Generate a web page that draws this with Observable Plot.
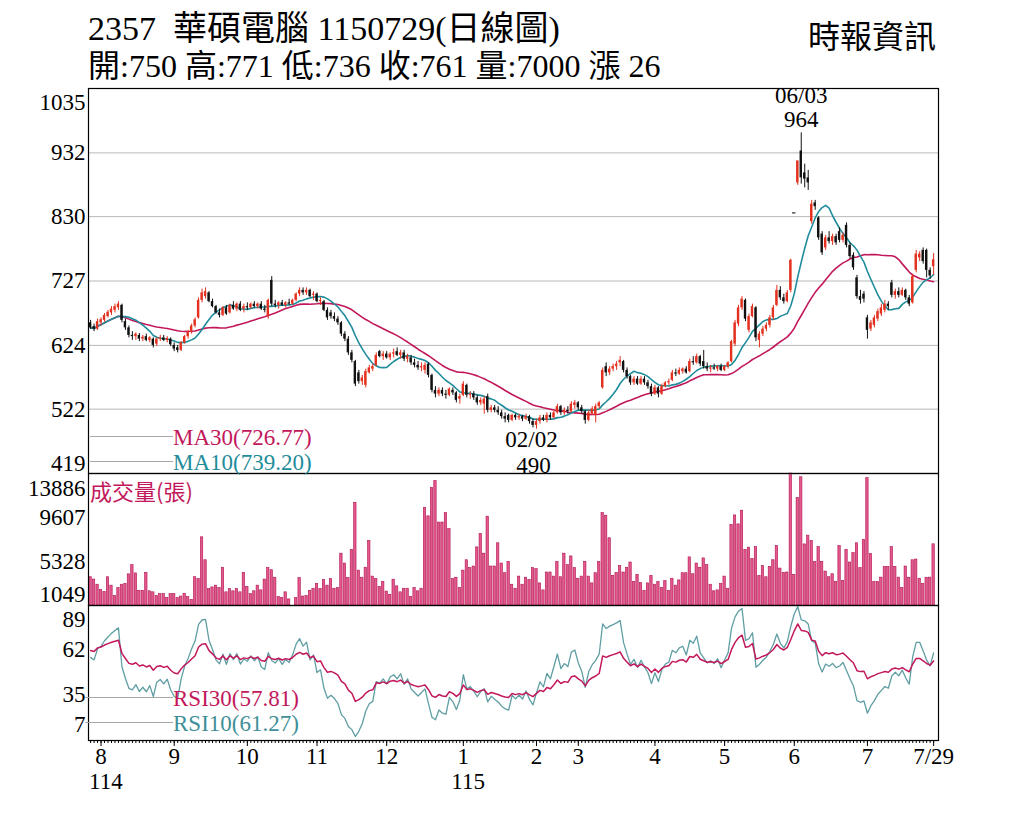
<!DOCTYPE html>
<html><head><meta charset="utf-8">
<script src="https://cdn.jsdelivr.net/npm/d3@7"></script>
<script src="https://cdn.jsdelivr.net/npm/@observablehq/plot@0.6"></script>
<style>
body{margin:0;background:#fff;}
#wrap{position:relative;width:1024px;height:819px;overflow:hidden;background:#fff;font-family:"Liberation Serif","Noto Sans CJK TC",serif;}
.abs{position:absolute;white-space:nowrap;line-height:1;}
.plot{position:absolute;left:0;}
.lg{position:absolute;height:0;border-top:1.5px solid #a8a8a8;}
</style></head><body><div id="wrap"></div>
<script>
// ---------- data ----------
const openP = [
660,654,650,660,664,670,676,680,684,688,
662,652,640,638,640,634,638,632,634,626,
634,636,632,634,624,620,616,628,638,645,
655,668,696,702,708,694,686,676,672,684,
676,688,682,690,682,686,684,690,686,690,
682,670,728,690,688,692,688,692,690,696,
706,712,708,712,704,706,694,694,680,676,
670,666,660,642,634,612,598,580,566,560,
580,586,592,614,606,610,604,610,614,608,
612,602,604,596,592,588,584,594,576,552,
546,552,546,544,552,548,538,544,560,544,
546,540,532,530,542,520,524,520,516,510,
512,504,512,508,510,506,510,502,496,502,
508,504,512,508,516,526,516,520,518,528,
532,524,518,504,514,512,526,556,590,580,
586,590,596,598,584,574,564,570,562,570,
564,558,546,556,546,558,564,568,580,578,
582,586,582,598,596,606,598,590,586,588,
586,590,584,590,598,626,658,684,696,648,
670,684,632,642,650,656,668,688,712,700,
694,712,836,884,935,900,892,822,852,828,
802,780,796,790,798,806,792,816,784,768,
732,702,706,668,650,656,666,674,680,690,
724,704,710,704,712,700,692,744,764,776,
776,744,750];
const highP = [
664,658,666,668,675,680,686,690,694,690,
666,655,646,644,643,640,642,638,636,636,
640,640,638,636,628,624,630,640,648,658,
668,700,714,716,710,698,688,682,686,688,
690,694,692,694,690,692,692,694,692,694,
688,698,734,696,694,696,694,698,698,708,
716,716,716,714,710,708,700,696,684,680,
676,670,662,646,638,616,600,584,576,586,
592,594,612,616,614,614,612,618,620,616,
616,610,608,602,598,596,596,596,578,558,
556,556,552,556,556,550,546,566,562,550,
550,544,540,542,546,528,528,526,520,516,
514,514,514,514,512,514,512,506,506,512,
512,516,516,520,530,528,524,526,534,536,
534,528,520,520,526,530,534,588,596,590,
594,598,606,600,588,576,574,574,574,574,
568,562,560,558,562,566,570,584,586,588,
588,590,602,606,610,608,616,596,592,594,
592,594,592,598,632,664,688,702,698,674,
690,686,646,654,660,672,688,720,718,706,
712,762,836,919,964,914,904,856,856,830,
806,800,806,802,802,812,804,820,788,772,
736,712,710,672,664,672,682,690,696,694,
728,714,716,716,714,704,738,776,774,780,
778,748,771];
const lowP = [
650,646,648,655,661,668,672,676,680,660,
648,636,632,632,630,630,630,628,620,622,
630,630,628,622,614,612,614,626,634,642,
652,666,692,698,692,684,674,668,670,672,
674,680,678,678,676,680,682,684,682,680,
676,666,686,684,682,686,684,688,688,694,
702,704,704,700,696,692,688,678,664,666,
662,656,638,630,608,596,558,562,560,556,
578,582,590,604,600,602,600,604,606,602,
598,596,592,588,584,582,578,572,548,540,
542,542,538,542,544,532,530,542,540,538,
536,528,528,514,516,516,516,512,506,500,
500,502,504,504,502,504,498,492,490,498,
502,500,504,506,514,512,512,514,516,522,
520,514,498,502,512,500,522,554,574,576,
582,584,590,580,570,560,560,560,560,560,
554,542,544,540,544,556,560,566,574,576,
578,578,580,592,594,590,586,582,580,584,
582,582,582,586,596,622,654,680,662,644,
668,630,620,638,646,652,664,686,696,690,
692,708,836,880,882,876,872,818,840,792,
768,776,786,784,784,788,788,780,762,744,
698,690,692,634,646,652,662,670,676,680,
700,698,700,702,696,686,690,740,758,754,
732,730,736];
const closeP = [
652,650,662,665,672,677,682,686,690,664,
652,640,638,642,634,637,632,636,624,634,
636,632,635,625,618,616,628,638,645,655,
665,696,708,710,694,686,676,672,684,674,
688,682,690,680,686,684,690,686,690,682,
680,696,690,688,692,688,692,690,696,706,
712,708,712,702,706,694,696,680,668,670,
666,660,642,634,612,600,562,566,572,582,
588,590,608,606,610,604,610,612,608,612,
602,606,596,592,588,590,592,576,552,546,
552,546,544,554,548,536,542,562,544,546,
540,532,536,538,520,524,520,516,510,506,
504,512,508,510,506,510,502,496,502,508,
504,512,508,516,526,516,520,518,530,532,
524,518,504,516,522,526,532,584,580,586,
590,594,600,584,574,564,570,562,570,564,
558,546,556,546,558,564,566,580,578,584,
586,580,598,596,606,594,590,586,588,586,
590,584,590,596,630,660,684,698,666,670,
686,636,642,650,656,668,684,712,700,694,
708,760,836,919,892,890,884,850,846,796,
772,796,790,798,788,792,800,784,766,748,
702,696,698,648,660,668,678,684,690,686,
704,710,704,712,700,690,734,770,770,758,
744,735,761];
const volume = [
3800,3570,3070,2550,2370,3800,2980,1970,2750,3070,
3160,4080,4970,4170,2480,2480,4220,2430,2330,1970,
2150,2150,1760,2150,2150,1760,1920,2190,1860,1600,
3800,3620,7680,5450,2650,2810,2980,2750,4720,2330,
2650,2430,2650,2330,4220,2850,2150,2430,2980,2520,
3570,4680,4480,3750,1870,1780,2330,1640,1049,1760,
3710,1920,1970,2480,2680,3140,2650,3530,2980,3620,
2680,2750,6090,5130,3710,6460,11040,4440,3750,4720,
7330,3860,3620,2850,3340,2400,2090,3560,2910,2330,
2680,2680,1870,2750,2430,2680,10530,9720,12490,13150,
9120,9120,10040,8470,3620,3750,2750,4440,5450,4680,
4840,6700,8000,6090,9690,4840,4840,7100,5130,4190,
5300,3070,2680,3860,3070,3750,3530,4680,4580,3200,
2520,4260,4260,3860,5300,3800,6090,4970,5820,4680,
3650,3860,5300,3860,3200,4190,5270,10040,9780,7590,
3930,4220,4900,4260,4720,5230,3340,4030,3240,2480,
3200,3930,3070,3340,2750,3430,2480,3650,2980,3490,
4190,4190,5730,4090,5130,4720,5630,4970,3070,2430,
2520,3140,3860,2680,8890,9810,8940,10270,6460,6680,
5580,6720,3930,4900,3800,4810,5450,6830,4640,4220,
4260,13886,4030,11500,13520,6990,7840,7330,5270,6720,
5300,4350,3800,4090,3340,6830,3430,6460,5230,6150,
7100,4680,7430,13430,6050,3340,3340,3760,4810,4810,
6720,4810,3760,2750,4840,3750,5450,5520,3650,3140,
3750,3760,7000];
// RSI values at the left edge of the picture (history before the window is not shown)
const rsiStart = {10: 57.5, 30: 61.7};
const priceTicks = [419,522,624,727,830,932,1035];
const volTicks = [1049,5328,9607,13886];
const rsiTicks = [7,35,62,89];
const monthTickIndex = [3,24,45,65,85,107,128,140,162,182,202,223,242];
const monthTickLabel = ["8","9","10","11","12","1","2","3","4","5","6","7","7/29"];
const yearTickIndex = [3,107];
const yearTickLabel = ["114","115"];
const highNote = [{i:204, p:964, date:"06/03"}];
const lowNote = [{i:128, p:490, date:"02/02"}];

// ---------- derived ----------
const days = closeP.map((c,i)=>({i, o:openP[i], h:highP[i], l:lowP[i], c, v:volume[i]}));
// Wilder RSI, seeded with the value shown at the left edge
function rsi(cl, n){
  let sumAbs = 0;
  for(let i=1;i<=n;i++) sumAbs += Math.abs(cl[i]-cl[i-1]);
  const m = sumAbs/n;
  let ag = m*rsiStart[n]/100, al = m*(1-rsiStart[n]/100);
  const out = [{i:0, r:rsiStart[n]}];
  for(let i=1;i<cl.length;i++){
    const d = cl[i]-cl[i-1];
    ag += (Math.max(d,0)-ag)/n; al += (Math.max(-d,0)-al)/n;
    out.push({i, r: 100*ag/(ag+al)});
  }
  return out;
}
const rsi10 = rsi(closeP,10), rsi30 = rsi(closeP,30);

const UP="#e3301f", DOWN="#111111";
const MA30C="#c2185b", MA10C="#1f8c9b";
const FONT='"Liberation Serif","Noto Sans CJK TC",serif';
const X = {domain:[-0.6,243.4], axis:null};
const baseStyle = {fontFamily:FONT, fontSize:"23px", background:"transparent", overflow:"visible", color:"#000"};
const col = d => d.c>d.o ? UP : DOWN;
const fmt = d => String(d);

const wrap = document.getElementById("wrap");
function place(svg, top){ svg.classList.add("plot"); svg.style.top = top+"px"; wrap.appendChild(svg); }
const yAx = (ticks, dy) => Plot.axisY(ticks, {tickSize:0, tickPadding:3, fontSize:23, dy, tickFormat:fmt, label:null});

// price panel
const price = Plot.plot({
  width:1024, height:400, marginLeft:88, marginRight:86, marginTop:8, marginBottom:7,
  x:X, y:{domain:[priceTicks[0], priceTicks[priceTicks.length-1]], axis:null},
  color:{type:"identity"}, style:baseStyle,
  marks:[
    Plot.gridY(priceTicks.slice(1,-1), {stroke:"#b8b8b8", strokeOpacity:1}),
    yAx(priceTicks.slice(1,-1), 0),
    yAx(priceTicks.slice(-1), 14),
    yAx(priceTicks.slice(0,1), -10),
    Plot.lineY(days, Plot.windowY({k:30, anchor:"end", strict:false, reduce:"mean"}, {x:"i", y:"c", stroke:MA30C, strokeWidth:1.6})),
    Plot.lineY(days, Plot.windowY({k:10, anchor:"end", strict:false, reduce:"mean"}, {x:"i", y:"c", stroke:MA10C, strokeWidth:1.6})),
    Plot.ruleX(days, {x:"i", y1:"l", y2:"h", stroke:col, strokeWidth:1}),
    Plot.rect(days.filter(d=>d.o!==d.c), {x1:d=>d.i-0.34, x2:d=>d.i+0.34, y1:d=>Math.min(d.o,d.c), y2:d=>Math.max(d.o,d.c), fill:col}),
    Plot.ruleY(days.filter(d=>d.o===d.c), {y:"c", x1:d=>d.i-0.5, x2:d=>d.i+0.5, stroke:"#555", strokeWidth:1.5}),
    Plot.text(highNote, {x:"i", y:"p", text:"date", dy:-37, fontSize:23}),
    Plot.text(highNote, {x:"i", y:"p", text:d=>String(d.p), dy:-13, fontSize:23}),
    Plot.text(lowNote, {x:"i", y:"p", text:"date", dy:10, dx:-5, fontSize:23}),
    Plot.text(lowNote, {x:"i", y:"p", text:d=>String(d.p), dy:36, dx:-3, fontSize:23}),
    Plot.frame({stroke:"#000", strokeWidth:1.2})
  ]
});
place(price, 80);

// volume panel
const vol = Plot.plot({
  width:1024, height:132, marginLeft:88, marginRight:86, marginTop:0, marginBottom:0,
  x:X, y:{domain:[volTicks[0], volTicks[volTicks.length-1]], axis:null},
  style:baseStyle,
  marks:[
    Plot.rect(days, {x1:d=>d.i-0.34, x2:d=>d.i+0.34, y1:volTicks[0], y2:"v", fill:"#e4588e", stroke:"#b0124f", strokeWidth:0.6}),
    yAx(volTicks.slice(1,-1), 0),
    yAx(volTicks.slice(-1), 15),
    yAx(volTicks.slice(0,1), -11),
    Plot.frame({stroke:"#000", strokeWidth:1.2})
  ]
});
place(vol, 473);

// RSI panel
const rsiPlot = Plot.plot({
  width:1024, height:200, marginLeft:88, marginRight:86, marginTop:0, marginBottom:65,
  x:X, y:{domain:[rsiTicks[0], rsiTicks[rsiTicks.length-1]], axis:null},
  style:baseStyle,
  marks:[
    Plot.lineY(rsi10, {x:"i", y:"r", stroke:"#5f9ea3", strokeWidth:1.3, clip:true}),
    Plot.lineY(rsi30, {x:"i", y:"r", stroke:MA30C, strokeWidth:1.5, clip:true}),
    yAx(rsiTicks.slice(1,-1), 0),
    yAx(rsiTicks.slice(-1), 14),
    yAx(rsiTicks.slice(0,1), -16),
    Plot.axisX(days.map(d=>d.i), {tickSize:3, text:null, anchor:"bottom", label:null}),
    Plot.axisX(monthTickIndex, {anchor:"bottom", tickSize:6, tickPadding:1, fontSize:23, label:null, tickFormat:d=>monthTickLabel[monthTickIndex.indexOf(d)]}),
    Plot.axisX(yearTickIndex, {anchor:"bottom", tickSize:0, tickPadding:32, fontSize:23, label:null, textAnchor:"start", dx:-12, tickFormat:d=>yearTickLabel[yearTickIndex.indexOf(d)]}),
    Plot.frame({stroke:"#000", strokeWidth:1.2})
  ]
});
place(rsiPlot, 605);

// ---------- header & legends ----------
function txt(s, left, top, size, color, extra){
  const d = document.createElement("div");
  d.className="abs"; d.textContent=s;
  d.style.left=left+"px"; d.style.top=top+"px"; d.style.fontSize=size+"px"; d.style.color=color||"#000";
  if(extra) Object.assign(d.style, extra);
  wrap.appendChild(d); return d;
}
function line(left, top, w){ const d=document.createElement("div"); d.className="lg"; d.style.left=left+"px"; d.style.top=top+"px"; d.style.width=w+"px"; wrap.appendChild(d); }
txt("2357\u00a0\u00a0華碩電腦 1150729(日線圖)", 88, 12, 34);
txt("開:750 高:771 低:736 收:761 量:7000 漲 26", 88, 50, 32);
txt("時報資訊", 808, 18, 32, "#000", {fontFamily:'"Noto Sans CJK TC",sans-serif'});
line(90, 436, 83); txt("MA30(726.77)", 173, 426, 23, MA30C);
line(90, 461, 83); txt("MA10(739.20)", 173, 451, 23, MA10C);
txt("成交量(張)", 90, 479, 22, MA30C, {fontFamily:'"Noto Sans CJK TC",sans-serif'});
line(85, 697, 88); txt("RSI30(57.81)", 173, 687, 23, MA30C);
line(85, 722, 88); txt("RSI10(61.27)", 173, 712, 23, "#3f8f98");
</script></body></html>
